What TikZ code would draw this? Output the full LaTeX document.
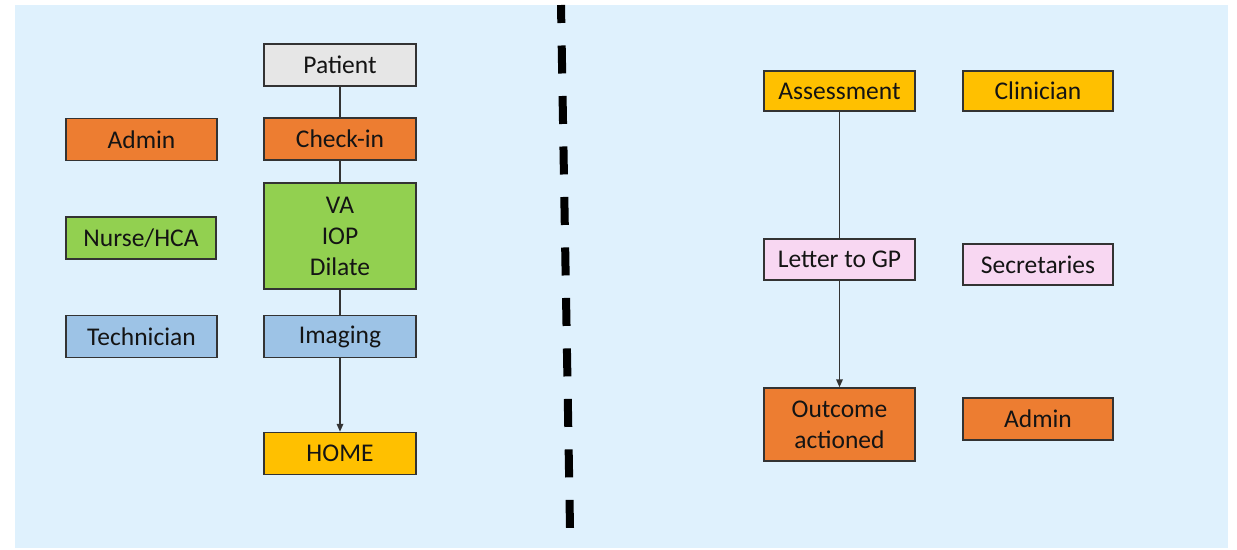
\documentclass[tikz,border=0pt]{standalone}
\usepackage{fontspec}
\setmainfont{Carlito}
\usetikzlibrary{arrows.meta}
\definecolor{bgblue}{HTML}{DFF1FD}
\definecolor{cgray}{HTML}{E6E6E6}
\definecolor{corange}{HTML}{ED7D31}
\definecolor{cgreen}{HTML}{92D050}
\definecolor{cblue}{HTML}{9DC3E6}
\definecolor{cgold}{HTML}{FFC000}
\definecolor{cpink}{HTML}{F8D7F2}
\definecolor{edgec}{HTML}{333333}
\definecolor{txt}{HTML}{141414}
\tikzset{
  box/.style={draw=edgec, line width=1.4pt, minimum width=152pt, minimum height=42pt,
    inner sep=0pt, align=center, text=txt, font=\fontsize{25.5}{31}\selectfont},
  conn/.style={draw=edgec, line width=1.6pt},
  arr/.style={conn, -{Triangle[length=8pt,width=6.5pt]}},
  divider/.style={line width=8pt, black, dash pattern=on 28pt off 22.5pt, dash phase=10pt}
}
\begin{document}
\begin{tikzpicture}[x=1pt,y=-1pt]
\useasboundingbox (0,0) rectangle (1237,549);
\fill[bgblue] (15,5) rectangle (1228,548);

% left column
\node[box, fill=cgray]   (patient) at (340,65)    {Patient};
\node[box, fill=corange] (checkin) at (340,139)   {Check-in};
\node[box, fill=cgreen, minimum height=106pt] (va) at (340,236) {VA\\IOP\\Dilate};
\node[box, fill=cblue]   (imaging) at (340,336.5) {Imaging};
\node[box, fill=cgold]   (home)    at (340,453.5) {HOME};

\node[box, fill=corange, minimum width=151pt] (adminL) at (141.5,139.5) {Admin};
\node[box, fill=cgreen, minimum width=150pt]  (nurse)  at (141,238)     {Nurse/HCA};
\node[box, fill=cblue, minimum width=151pt]   (tech)   at (141.5,336.5) {Technician};

\draw[conn] (patient) -- (checkin);
\draw[conn] (checkin) -- (va);
\draw[conn] (va) -- (imaging);
\draw[arr]  (imaging) -- (home);

% divider
\coordinate (dtop) at (561,5);
\coordinate (dbot) at (570,528);
\draw[divider] (dtop) -- (dbot);

% right column
\node[box, fill=cgold, minimum width=151pt, minimum height=40pt] (assess) at (839.5,91) {Assessment};
\node[box, fill=cpink, minimum width=151pt, minimum height=41pt] (letter) at (839.5,259.5) {Letter to GP};
\node[box, fill=corange, minimum width=151pt, minimum height=73pt] (outcome) at (839.5,424.5) {Outcome\\actioned};

\node[box, fill=cgold, minimum width=150pt, minimum height=40pt] (clin) at (1038,91) {Clinician};
\node[box, fill=cpink, minimum width=150pt, minimum height=41pt] (secr) at (1038,264.5) {Secretaries};
\node[box, fill=corange, minimum width=150pt] (adminR) at (1038,419) {Admin};

\draw[conn] (assess) -- (letter);
\draw[arr]  (letter) -- (outcome);
\end{tikzpicture}
\end{document}
